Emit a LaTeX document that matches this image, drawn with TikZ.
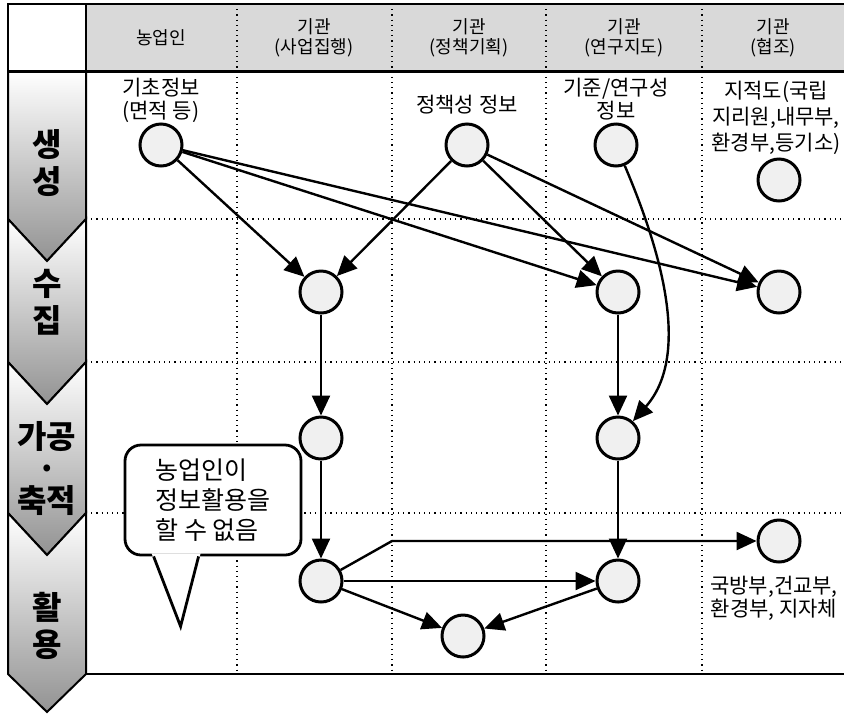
\documentclass[tikz,border=0pt]{standalone}
\usepackage{fontspec}
\setmainfont{Noto Sans CJK KR}
\usetikzlibrary{arrows.meta, positioning, calc}

\begin{document}
\begin{tikzpicture}[x=0.5pt, y=-0.5pt,
    infonode/.style={circle, draw, line width=1.5pt, fill=gray!12, minimum size=21pt, inner sep=0pt},
    lbl/.style={align=center, font=\fontsize{10.5}{11.5}\selectfont, inner sep=0pt},
    hdr/.style={align=center, font=\fontsize{9}{10}\selectfont, inner sep=0pt},
    stagetxt/.style={align=center, font=\fontsize{16}{18.5}\selectfont\bfseries, inner sep=0pt},
    stagebox/.style={draw, line width=1pt, top color=white, bottom color=gray!85},
    sepline/.style={dotted, line width=0.6pt},
    bubble/.style={draw, line width=1.4pt, fill=white, rounded corners=8pt, minimum width=88pt, minimum height=55pt, align=left, font=\fontsize{12.5}{15}\selectfont},
    arr/.style={-{Triangle[length=10pt,width=9pt]}, line width=1.2pt}
]
\useasboundingbox (0,0) rectangle (844,713);

% stage chevrons
\draw[stagebox] (8,71) -- (86,71) -- (86,219) -- (47,261) -- (8,219) -- cycle;
\draw[stagebox] (8,219) -- (47,261) -- (86,219) -- (86,362) -- (47,404) -- (8,362) -- cycle;
\draw[stagebox] (8,362) -- (47,404) -- (86,362) -- (86,513) -- (47,555) -- (8,513) -- cycle;
\draw[stagebox] (8,513) -- (47,555) -- (86,513) -- (86,674) -- (47,712) -- (8,674) -- cycle;
\node[stagetxt] (st1) at (47,163) {생\\성};
\node[stagetxt] (st2) at (47,302) {수\\집};
\node[stagetxt, font=\fontsize{16}{16}\selectfont\bfseries] (st3) at (47,468) {가공\\·\\축적};
\node[stagetxt] (st4) at (47,626) {활\\용};

% header
\fill[gray!30] (86,4) rectangle (844,71);
\draw[line width=1pt] (8,4) rectangle (86,71);
\draw[line width=1pt] (86,4) -- (844,4);
\draw[line width=1.5pt] (8,71) -- (844,71);
\draw[line width=1pt] (86,4) -- (86,674) -- (844,674);
\node[hdr] (hfarm) at (161,38) {농업인};
\node[hdr] (hexec) at (314,38) {기관\\(사업집행)};
\node[hdr] (hplan) at (469,38) {기관\\(정책기획)};
\node[hdr] (hlab) at (624,38) {기관\\(연구지도)};
\node[hdr] (hcoop) at (773,38) {기관\\(협조)};

% grid
\foreach \x in {237,392,546,702} \draw[sepline] (\x,4) -- (\x,674);
\foreach \y in {219,362,513} \draw[sepline] (86,\y) -- (844,\y);

% information nodes
\node[infonode] (base) at (161,145) {};
\node[infonode] (policy) at (467,145) {};
\node[infonode] (research) at (616,145) {};
\node[infonode] (cadastre) at (779,180) {};
\node[infonode] (coll1) at (321,292) {};
\node[infonode] (coll2) at (618,292) {};
\node[infonode] (coll3) at (779,292) {};
\node[infonode] (proc1) at (321,438) {};
\node[infonode] (proc2) at (618,438) {};
\node[infonode] (use1) at (321,581) {};
\node[infonode] (use2) at (618,581) {};
\node[infonode] (use3) at (463,636) {};
\node[infonode] (use4) at (779,541) {};

\node[lbl] (lbase) at (161,100) {기초정보\\(면적 등)};
\node[lbl] (lpolicy) at (467,105) {정책성 정보};
\node[lbl] (lresearch) at (616,99) {기준/연구성\\정보};
\node[lbl, font=\fontsize{10.5}{13}\selectfont] (lcadastre) at (776,118) {지적도(국립\\지리원,내무부,\\환경부,등기소)};
\node[lbl] (luse4) at (774,598) {국방부,건교부,\\환경부, 지자체};

% arrows
\draw[arr] (base) -- (coll1);
\draw[arr] (base) -- (coll2);
\draw[arr] (base) -- (coll3);
\draw[arr] (policy) -- (coll1);
\draw[arr] (policy) -- (coll2);
\draw[arr] (policy) -- (coll3);
\draw[arr] (research) .. controls (652,230) and (696,350) .. (proc2);
\draw[arr] (coll1) -- (proc1);
\draw[arr] (coll2) -- (proc2);
\draw[arr] (proc1) -- (use1);
\draw[arr] (proc2) -- (use2);
\coordinate (bendpt) at (392,541);
\draw[arr] (use1) -- (bendpt) -- (use4);
\draw[arr] (use1) -- (use2);
\draw[arr] (use1) -- (use3);
\draw[arr] (use2) -- (use3);

% speech bubble
\node[bubble] (note) at (213,500) {농업인이\\정보활용을\\할 수 없음};
\coordinate (tailtip) at ($(note.south west)+(57,70)$);
\fill[white] ($(note.south west)+(28,-3)$) -- (tailtip) -- ($(note.south west)+(77,-3)$) -- cycle;
\draw[line width=1.4pt] ($(note.south west)+(30,0)$) -- (tailtip) -- ($(note.south west)+(75,0)$);
\end{tikzpicture}
\end{document}
